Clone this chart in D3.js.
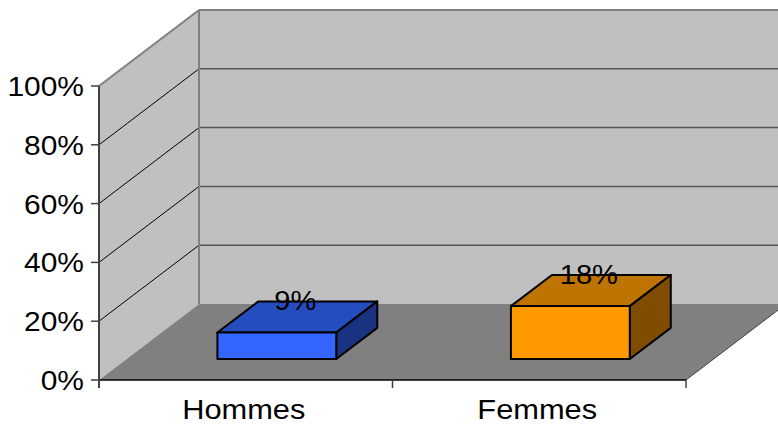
<!DOCTYPE html>
<html>
<head>
<meta charset="utf-8">
<script src="https://cdn.jsdelivr.net/npm/d3@7"></script>
<style>
  html, body { margin: 0; padding: 0; background: #fff; }
  svg { display: block; }
  text { font-family: "Liberation Sans", Arial, sans-serif; font-size: 28px; fill: #000; }
</style>
</head>
<body>
<svg id="chart" width="778" height="425"></svg>
<script>
// Share of each group, in percent
const categories = ["Hommes", "Femmes"];
const values = [9, 18];
const valueLabels = ["9%", "18%"];
const tickValues = [0, 20, 40, 60, 80, 100];
const tickLabels = ["0%", "20%", "40%", "60%", "80%", "100%"];
const frontColors = ["#3366ff", "#ff9900"];

const svg = d3.select("#chart");

// Front-left corner of the floor and the oblique depth vector
const originX = 99, originY = 380;
const depthDX = 100, depthDY = -76;
const floorWidth = 587;
const wallHeight = 294;

const x = d3.scaleBand().domain(categories).range([0, floorWidth])
  .paddingInner(0.595).paddingOuter(0.2975).align(0.52);
const y = d3.scaleLinear().domain([0, 100]).range([0, wallHeight]);
const z = d3.scaleLinear().domain([0, 1]).range([0, 1]);

// Project (horizontal, value, depth) onto the page
function P(px, v, d) {
  return [originX + px + z(d) * depthDX, originY - y(v) + z(d) * depthDY];
}
const poly = pts => pts.map(p => p.join(",")).join(" ");

// Slightly widened text, anchored at (tx, ty)
function label(tx, ty, anchor, str, sx) {
  return svg.append("text")
    .attr("transform", `translate(${tx},${ty}) scale(${sx},1)`)
    .attr("text-anchor", anchor).text(str);
}

// Walls and floor
const wallFill = "#c0c0c0", floorFill = "#808080";
const farRight = floorWidth + 200;

svg.append("polygon") // back wall
  .attr("points", poly([P(0, 0, 1), P(0, 100, 1), P(farRight, 100, 1), P(farRight, 0, 1)]))
  .attr("fill", wallFill);
svg.append("polygon") // side wall
  .attr("points", poly([P(0, 0, 0), P(0, 100, 0), P(0, 100, 1), P(0, 0, 1)]))
  .attr("fill", wallFill);
svg.append("polygon") // floor
  .attr("points", poly([P(0, 0, 0), P(floorWidth, 0, 0), P(floorWidth, 0, 1), P(0, 0, 1)]))
  .attr("fill", floorFill);

// Gridlines on the back wall and side wall
tickValues.filter(t => t > 0 && t < 100).forEach(t => {
  const a = P(0, t, 1), b = P(farRight, t, 1);
  svg.append("line").attr("x1", a[0]).attr("y1", a[1]).attr("x2", b[0]).attr("y2", b[1])
    .attr("stroke", "#555").attr("stroke-width", 1.5);
  const c = P(0, t, 0);
  svg.append("line").attr("x1", c[0]).attr("y1", c[1]).attr("x2", a[0]).attr("y2", a[1])
    .attr("stroke", "#000").attr("stroke-width", 1);
});

// Wall edges
const edge = (a, b, color, w) => svg.append("line")
  .attr("x1", a[0]).attr("y1", a[1]).attr("x2", b[0]).attr("y2", b[1])
  .attr("stroke", color).attr("stroke-width", w);
edge(P(0, 100, 0), P(0, 100, 1), "#808080", 2);
edge(P(0, 100, 1), P(farRight, 100, 1), "#808080", 2);
edge(P(0, 0, 1), P(0, 100, 1), "#808080", 2);
edge(P(floorWidth, 0, 0), P(floorWidth, 0, 1), "#404040", 1);
edge(P(0, 0, 0), P(floorWidth, 0, 0), "#000", 1.5);

// Value axis
edge(P(0, 100, 0), [originX, originY + 8], "#404040", 2);
tickValues.forEach((t, i) => {
  const p = P(0, t, 0);
  edge([p[0] - 8, p[1]], p, "#404040", 1.5);
  label(p[0] - 15, p[1] + 10, "end", tickLabels[i], 1.07);
});

// Category axis ticks and labels
[0, floorWidth / 2, floorWidth].forEach(px => {
  const p = P(px, 0, 0);
  edge(p, [p[0], p[1] + 8], "#404040", 1.5);
});
categories.forEach((c, i) => {
  const p = P(floorWidth / 4 + i * floorWidth / 2, 0, 0);
  label(p[0] - 2, 419, "middle", c, 1.1);
});

// Bars as boxes
const zFront = 0.276, zBack = 0.686;
const shade = (c, k) => { const r = d3.rgb(c); return d3.rgb(r.r * k, r.g * k, r.b * k).formatHex(); };

categories.forEach((c, i) => {
  const x0 = x(c), x1 = x(c) + x.bandwidth(), v = values[i];
  const g = svg.append("g").attr("stroke", "#000").attr("stroke-width", 2).attr("stroke-linejoin", "round");
  g.append("polygon") // top
    .attr("points", poly([P(x0, v, zFront), P(x1, v, zFront), P(x1, v, zBack), P(x0, v, zBack)]))
    .attr("fill", shade(frontColors[i], 0.75));
  g.append("polygon") // side
    .attr("points", poly([P(x1, 0, zFront), P(x1, v, zFront), P(x1, v, zBack), P(x1, 0, zBack)]))
    .attr("fill", shade(frontColors[i], 0.5));
  g.append("polygon") // front
    .attr("points", poly([P(x0, 0, zFront), P(x1, 0, zFront), P(x1, v, zFront), P(x0, v, zFront)]))
    .attr("fill", frontColors[i]);

  const lp = P((x0 + x1) / 2, v, (zFront + zBack) / 2);
  label(lp[0] - 2, lp[1] - 7, "middle", valueLabels[i], 1.04);
});
</script>
</body>
</html>
